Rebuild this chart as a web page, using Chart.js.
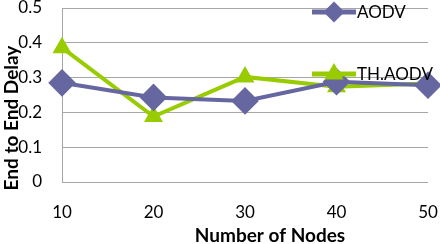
<!DOCTYPE html>
<html><head><meta charset="utf-8">
<script src="https://cdn.jsdelivr.net/npm/chart.js@4.4.0/dist/chart.umd.min.js"></script>
<style>html,body{margin:0;padding:0;background:#fff}#w{width:440px;height:244px}</style>
</head><body><div id="w"><canvas id="c" width="440" height="244"></canvas></div>
<script>
const categories = ['10','20','30','40','50'];
const aodv = [0.285, 0.243, 0.233, 0.288, 0.278];
const thAodv = [0.386, 0.188, 0.302, 0.274, 0.283];
const seriesNames = ['AODV','TH.AODV'];
const yTicks = [0,0.1,0.2,0.3,0.4,0.5];
const xTitle = 'Number of Nodes';
const yTitle = 'End to End Delay';
const FONT = "Lato, 'Open Sans', sans-serif";
const C1 = '#6666a0', C2 = '#99cc00';

const legendPlugin = {
  id:'customLegend',
  afterDraw(chart){
    const ctx = chart.ctx;
    const items = [{y:12, ds:0},{y:74, ds:1}];
    items.forEach(it=>{
      const d = chart.data.datasets[it.ds];
      ctx.save();
      ctx.strokeStyle = d.borderColor; ctx.lineWidth = 5;
      ctx.beginPath(); ctx.moveTo(312,it.y); ctx.lineTo(356,it.y); ctx.stroke();
      ctx.fillStyle = d.borderColor; ctx.strokeStyle=d.borderColor;
      Chart.helpers.drawPoint(ctx,{pointStyle:d.pointStyle, radius:it.ds===0?7:6, borderWidth:1, rotation:0}, 334, it.y);
      ctx.fillStyle='#000'; ctx.font = "17px "+FONT; ctx.textBaseline='middle'; ctx.textAlign='left';
      ctx.fillText(d.label, 357, it.y+1);
      ctx.restore();
    });
    ctx.save();
    ctx.fillStyle='#000'; ctx.font = "bold 19px "+FONT; ctx.textAlign='center'; ctx.textBaseline='middle';
    ctx.fillText(xTitle, 270, 236);
    ctx.translate(12, 118); ctx.rotate(-Math.PI/2);
    ctx.fillText(yTitle, 0, 0);
    ctx.restore();
  }
};

new Chart(document.getElementById('c'),{
  type:'line',
  data:{labels:categories, datasets:[
    {label:seriesNames[0], data:aodv, borderColor:C1, backgroundColor:C1, borderWidth:4, pointStyle:'rectRot', pointRadius:11, pointHoverRadius:11, tension:0, clip:false},
    {label:seriesNames[1], data:thAodv, borderColor:C2, backgroundColor:C2, borderWidth:4, pointStyle:'triangle', pointRadius:7, pointHoverRadius:7, tension:0, clip:false}
  ]},
  options:{
    responsive:false, animation:false,
    layout:{autoPadding:false, padding:{top:8,right:12,left:0,bottom:0}},
    plugins:{legend:{display:false}, tooltip:{enabled:false}},
    scales:{
      x:{offset:false,
        grid:{display:false, drawTicks:false},
        border:{display:false},
        ticks:{color:'#000', font:{family:FONT,size:17}, padding:20},
        afterFit(s){ s.height = 62; s.paddingLeft = 0; s.paddingRight = 0; }
      },
      y:{min:0,max:0.5,
        afterBuildTicks(s){ s.ticks = yTicks.map(v=>({value:v})); },
        grid:{color:'#a6a6a6', lineWidth:1, drawTicks:false},
        border:{display:true, color:'#a6a6a6'},
        ticks:{color:'#000', font:{family:FONT,size:17}, padding:20, callback:v=>String(v)},
        afterFit(s){ s.width = 62; s.paddingTop = 0; s.paddingBottom = 0; }
      }
    }
  },
  plugins:[legendPlugin]
});
</script></body></html>
